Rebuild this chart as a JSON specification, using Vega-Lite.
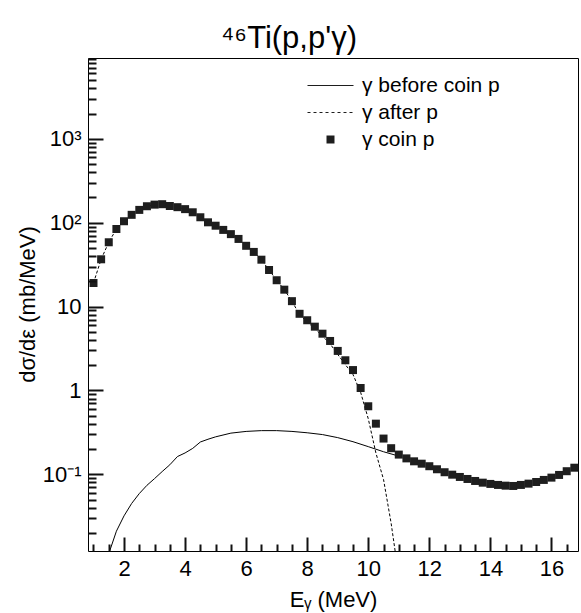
{
  "$schema": "https://vega.github.io/schema/vega-lite/v6.json",
  "width": 490,
  "height": 493,
  "autosize": {"type": "none"},
  "padding": {"left": 88, "top": 58, "right": 3, "bottom": 62},
  "background": "white",
  "title": {
    "text": "⁴⁶Ti(p,p'γ)",
    "font": "Liberation Sans",
    "fontSize": 31,
    "fontWeight": "normal",
    "color": "black",
    "anchor": "middle",
    "frame": "group",
    "baseline": "alphabetic",
    "dx": -44,
    "offset": -21
  },
  "config": {
    "view": {"stroke": "black", "strokeWidth": 1},
    "font": "Liberation Sans",
    "axis": {
      "labelColor": "black",
      "titleColor": "black",
      "labelFont": "Liberation Sans",
      "titleFont": "Liberation Sans",
      "labelFontSize": 22,
      "titleFontSize": 22,
      "titleFontWeight": "normal",
      "gridOpacity": 0,
      "labelOverlap": false,
      "labelFlush": false
    }
  },
  "resolve": {"axis": {"x": "independent", "y": "independent"}},
  "datasets": {
    "pts": [
      {"E": 1.0, "v": 19.1, "series": "γ coin p"},
      {"E": 1.25, "v": 36.6, "series": "γ coin p"},
      {"E": 1.5, "v": 58.4, "series": "γ coin p"},
      {"E": 1.75, "v": 84, "series": "γ coin p"},
      {"E": 2.0, "v": 104, "series": "γ coin p"},
      {"E": 2.25, "v": 124, "series": "γ coin p"},
      {"E": 2.5, "v": 142, "series": "γ coin p"},
      {"E": 2.75, "v": 157, "series": "γ coin p"},
      {"E": 3.0, "v": 164, "series": "γ coin p"},
      {"E": 3.25, "v": 166, "series": "γ coin p"},
      {"E": 3.5, "v": 158, "series": "γ coin p"},
      {"E": 3.75, "v": 153, "series": "γ coin p"},
      {"E": 4.0, "v": 145, "series": "γ coin p"},
      {"E": 4.25, "v": 133, "series": "γ coin p"},
      {"E": 4.5, "v": 116, "series": "γ coin p"},
      {"E": 4.75, "v": 101, "series": "γ coin p"},
      {"E": 5.0, "v": 92, "series": "γ coin p"},
      {"E": 5.25, "v": 82, "series": "γ coin p"},
      {"E": 5.5, "v": 73, "series": "γ coin p"},
      {"E": 5.75, "v": 64, "series": "γ coin p"},
      {"E": 6.0, "v": 53, "series": "γ coin p"},
      {"E": 6.25, "v": 44.8, "series": "γ coin p"},
      {"E": 6.5, "v": 36.2, "series": "γ coin p"},
      {"E": 6.75, "v": 27.3, "series": "γ coin p"},
      {"E": 7.0, "v": 20.6, "series": "γ coin p"},
      {"E": 7.25, "v": 15.9, "series": "γ coin p"},
      {"E": 7.5, "v": 11.6, "series": "γ coin p"},
      {"E": 7.75, "v": 8.2, "series": "γ coin p"},
      {"E": 8.0, "v": 6.87, "series": "γ coin p"},
      {"E": 8.25, "v": 5.76, "series": "γ coin p"},
      {"E": 8.5, "v": 4.75, "series": "γ coin p"},
      {"E": 8.75, "v": 3.89, "series": "γ coin p"},
      {"E": 9.0, "v": 2.96, "series": "γ coin p"},
      {"E": 9.25, "v": 2.29, "series": "γ coin p"},
      {"E": 9.5, "v": 1.75, "series": "γ coin p"},
      {"E": 9.75, "v": 1.07, "series": "γ coin p"},
      {"E": 10.0, "v": 0.648, "series": "γ coin p"},
      {"E": 10.25, "v": 0.402, "series": "γ coin p"},
      {"E": 10.5, "v": 0.267, "series": "γ coin p"},
      {"E": 10.75, "v": 0.205, "series": "γ coin p"},
      {"E": 11.0, "v": 0.172, "series": "γ coin p"},
      {"E": 11.25, "v": 0.155, "series": "γ coin p"},
      {"E": 11.5, "v": 0.143, "series": "γ coin p"},
      {"E": 11.75, "v": 0.134, "series": "γ coin p"},
      {"E": 12.0, "v": 0.125, "series": "γ coin p"},
      {"E": 12.25, "v": 0.115, "series": "γ coin p"},
      {"E": 12.5, "v": 0.106, "series": "γ coin p"},
      {"E": 12.75, "v": 0.0991, "series": "γ coin p"},
      {"E": 13.0, "v": 0.0931, "series": "γ coin p"},
      {"E": 13.25, "v": 0.0881, "series": "γ coin p"},
      {"E": 13.5, "v": 0.0834, "series": "γ coin p"},
      {"E": 13.75, "v": 0.0796, "series": "γ coin p"},
      {"E": 14.0, "v": 0.0769, "series": "γ coin p"},
      {"E": 14.25, "v": 0.0748, "series": "γ coin p"},
      {"E": 14.5, "v": 0.0733, "series": "γ coin p"},
      {"E": 14.75, "v": 0.0727, "series": "γ coin p"},
      {"E": 15.0, "v": 0.0748, "series": "γ coin p"},
      {"E": 15.25, "v": 0.0775, "series": "γ coin p"},
      {"E": 15.5, "v": 0.0811, "series": "γ coin p"},
      {"E": 15.75, "v": 0.0858, "series": "γ coin p"},
      {"E": 16.0, "v": 0.0914, "series": "γ coin p"},
      {"E": 16.25, "v": 0.0984, "series": "γ coin p"},
      {"E": 16.5, "v": 0.109, "series": "γ coin p"},
      {"E": 16.75, "v": 0.120, "series": "γ coin p"}
    ],
    "before": [
      {"E": 1.53, "v": 0.0122},
      {"E": 1.75, "v": 0.021},
      {"E": 2.0, "v": 0.032},
      {"E": 2.25, "v": 0.045},
      {"E": 2.5, "v": 0.059},
      {"E": 2.75, "v": 0.074},
      {"E": 3.0, "v": 0.089},
      {"E": 3.25, "v": 0.108},
      {"E": 3.5, "v": 0.13},
      {"E": 3.75, "v": 0.163},
      {"E": 4.0, "v": 0.18},
      {"E": 4.25, "v": 0.204},
      {"E": 4.5, "v": 0.243},
      {"E": 4.75, "v": 0.262},
      {"E": 5.0, "v": 0.28},
      {"E": 5.5, "v": 0.31},
      {"E": 6.0, "v": 0.325},
      {"E": 6.5, "v": 0.332},
      {"E": 7.0, "v": 0.332},
      {"E": 7.5, "v": 0.325},
      {"E": 8.0, "v": 0.313},
      {"E": 8.5, "v": 0.298},
      {"E": 9.0, "v": 0.274},
      {"E": 9.5, "v": 0.245},
      {"E": 10.0, "v": 0.214},
      {"E": 10.5, "v": 0.186},
      {"E": 11.0, "v": 0.165}
    ],
    "after": [
      {"E": 1.0, "v": 19.1},
      {"E": 1.25, "v": 36.6},
      {"E": 1.5, "v": 58.4},
      {"E": 1.75, "v": 84},
      {"E": 2.0, "v": 104},
      {"E": 2.25, "v": 124},
      {"E": 2.5, "v": 142},
      {"E": 2.75, "v": 157},
      {"E": 3.0, "v": 164},
      {"E": 3.25, "v": 166},
      {"E": 3.5, "v": 158},
      {"E": 3.75, "v": 153},
      {"E": 4.0, "v": 145},
      {"E": 4.25, "v": 133},
      {"E": 4.5, "v": 116},
      {"E": 4.75, "v": 101},
      {"E": 5.0, "v": 92},
      {"E": 5.25, "v": 82},
      {"E": 5.5, "v": 73},
      {"E": 5.75, "v": 64},
      {"E": 6.0, "v": 53},
      {"E": 6.25, "v": 44.8},
      {"E": 6.5, "v": 36.2},
      {"E": 6.75, "v": 27.3},
      {"E": 7.0, "v": 20.6},
      {"E": 7.25, "v": 15.9},
      {"E": 7.5, "v": 11.6},
      {"E": 7.75, "v": 8.0},
      {"E": 8.0, "v": 6.55},
      {"E": 8.25, "v": 5.45},
      {"E": 8.5, "v": 4.45},
      {"E": 8.75, "v": 3.6},
      {"E": 9.0, "v": 2.69},
      {"E": 9.25, "v": 2.03},
      {"E": 9.5, "v": 1.55},
      {"E": 9.75, "v": 0.95},
      {"E": 10.0, "v": 0.46},
      {"E": 10.25, "v": 0.18},
      {"E": 10.5, "v": 0.087},
      {"E": 10.75, "v": 0.026},
      {"E": 10.88, "v": 0.0122}
    ]
  },
  "layer": [
    {
      "data": {"name": "before"},
      "mark": {"type": "line", "color": "black", "strokeWidth": 1},
      "encoding": {
        "x": {
          "field": "E",
          "type": "quantitative",
          "scale": {"domain": [0.82, 16.87], "nice": false, "zero": false},
          "axis": {
            "orient": "bottom",
            "domain": false,
            "ticks": true,
            "tickColor": "#111111",
            "tickOpacity": 1,
            "tickWidth": 2,
            "zindex": 1,
            "offset": -14,
            "tickSize": 14,
            "title": "Eᵧ (MeV)",
            "values": [2, 4, 6, 8, 10, 12, 14, 16],
            "format": "d",
            "labelPadding": 7,
            "labelBaseline": "top",
            "titleX": 245,
            "titleY": 69,
            "titleBaseline": "alphabetic",
            "titleAlign": "center"
          }
        },
        "y": {
          "field": "v",
          "type": "quantitative",
          "scale": {"type": "log", "domain": [0.0122, 9180], "nice": false},
          "axis": {
            "orient": "left",
            "domain": false,
            "ticks": true,
            "tickColor": "#111111",
            "tickOpacity": 1,
            "tickWidth": 2,
            "zindex": 1,
            "offset": -15,
            "tickSize": 15,
            "title": "dσ/dε (mb/MeV)",
            "values": [0.1, 1, 10, 100, 1000],
            "labelExpr": "datum.value == 1000 ? '10³' : datum.value == 100 ? '10²' : datum.value == 10 ? '10' : datum.value == 1 ? '1' : '10⁻¹'",
            "labelPadding": 7,
            "titleX": -76,
            "titleY": 246,
            "titleAngle": -90,
            "titleAlign": "center",
            "titleBaseline": "middle"
          }
        }
      }
    },
    {
      "data": {"name": "after"},
      "mark": {"type": "line", "color": "black", "strokeWidth": 1, "strokeDash": [3, 2]},
      "encoding": {
        "x": {
          "field": "E",
          "type": "quantitative",
          "scale": {"domain": [0.82, 16.87], "nice": false, "zero": false},
          "axis": {
            "orient": "bottom",
            "domain": false,
            "ticks": true,
            "tickColor": "#111111",
            "tickOpacity": 1,
            "tickWidth": 2,
            "zindex": 1,
            "offset": -7,
            "tickSize": 7,
            "title": null,
            "labels": false,
            "values": [1, 1.5, 2.5, 3, 3.5, 4.5, 5, 5.5, 6.5, 7, 7.5, 8.5, 9, 9.5, 10.5, 11, 11.5, 12.5, 13, 13.5, 14.5, 15, 15.5, 16.5]
          }
        },
        "y": {
          "field": "v",
          "type": "quantitative",
          "scale": {"type": "log", "domain": [0.0122, 9180], "nice": false},
          "axis": {
            "orient": "left",
            "domain": false,
            "ticks": true,
            "tickColor": "#111111",
            "tickOpacity": 1,
            "tickWidth": 2,
            "zindex": 1,
            "offset": -8,
            "tickSize": 8,
            "title": null,
            "labels": false,
            "values": [0.02, 0.03, 0.04, 0.05, 0.06, 0.07, 0.08, 0.09, 0.2, 0.3, 0.4, 0.5, 0.6, 0.7, 0.8, 0.9, 2, 3, 4, 5, 6, 7, 8, 9, 20, 30, 40, 50, 60, 70, 80, 90, 200, 300, 400, 500, 600, 700, 800, 900, 2000, 3000, 4000, 5000, 6000, 7000, 8000, 9000]
          }
        }
      }
    },
    {
      "data": {"name": "pts"},
      "mark": {"type": "point", "filled": true, "size": 64, "color": "#1e1e1e", "opacity": 1},
      "encoding": {
        "x": {
          "field": "E",
          "type": "quantitative",
          "scale": {"domain": [0.82, 16.87], "nice": false, "zero": false},
          "axis": null
        },
        "y": {
          "field": "v",
          "type": "quantitative",
          "scale": {"type": "log", "domain": [0.0122, 9180], "nice": false},
          "axis": null
        },
        "shape": {
          "field": "series",
          "type": "nominal",
          "scale": {
            "domain": ["γ before coin p", "γ after p", "γ coin p"],
            "range": [
              "M-5.75,-0.13H5.75V0.13H-5.75Z",
              "M-5.75,-0.1H-5V0.1H-5.75ZM-4.25,-0.1H-3.5V0.1H-4.25ZM-2.75,-0.1H-2V0.1H-2.75ZM-1.25,-0.1H-0.5V0.1H-1.25ZM0.25,-0.1H1V0.1H0.25ZM1.75,-0.1H2.5V0.1H1.75ZM3.25,-0.1H4V0.1H3.25ZM4.75,-0.1H5.5V0.1H4.75Z",
              "square"
            ]
          },
          "legend": {
            "title": null,
            "orient": "none",
            "legendX": 232,
            "legendY": 17,
            "padding": 0,
            "labelFont": "Liberation Sans",
            "labelFontSize": 21,
            "labelColor": "black",
            "labelOffset": 21,
            "rowPadding": 5,
            "symbolSize": 64,
            "symbolStrokeWidth": 0,
            "symbolFillColor": "#1e1e1e",
            "symbolOpacity": 1,
            "encode": {
              "symbols": {
                "update": {
                  "stroke": {"value": "transparent"},
                  "fill": {"value": "#1e1e1e"},
                  "opacity": {"value": 1}
                }
              }
            }
          }
        }
      }
    }
  ]
}
